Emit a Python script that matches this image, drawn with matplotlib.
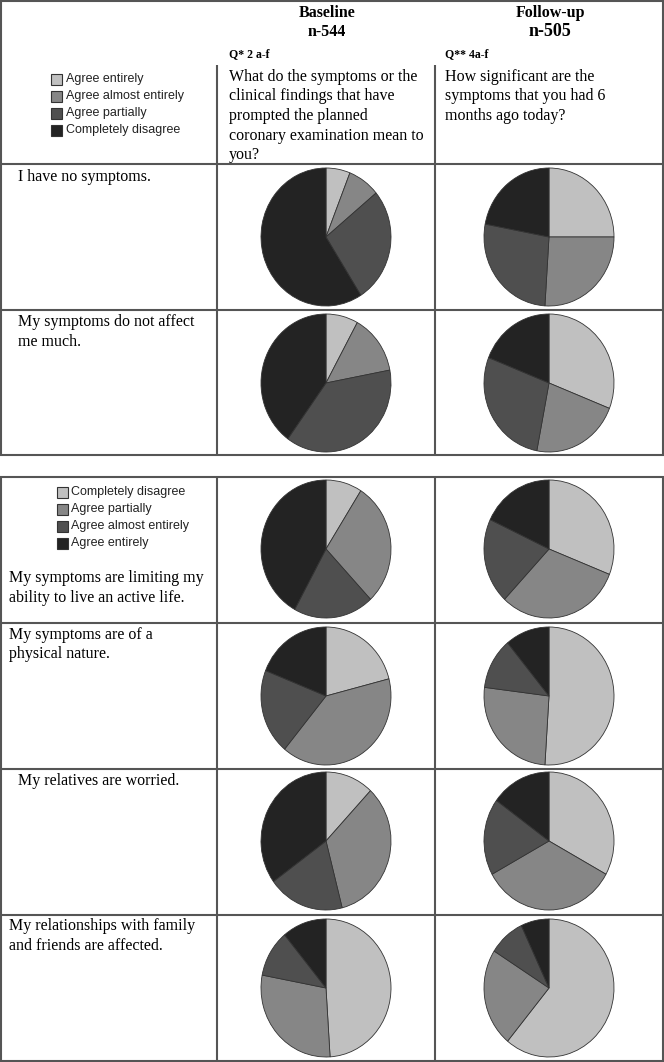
import matplotlib
matplotlib.use("Agg")
import matplotlib.pyplot as plt
from matplotlib.patches import Rectangle

# --- data -------------------------------------------------------------
statements = [
    "I have no symptoms.",
    "My symptoms do not affect\nme much.",
    "My symptoms are limiting my\nability to live an active life.",
    "My symptoms are of a\nphysical nature.",
    "My relatives are worried.",
    "My relationships with family\nand friends are affected.",
]
# shares per wedge, clockwise from 12 o'clock: light, mid, dark, black
baseline = [
    [6, 8, 27, 59],
    [8, 14, 38, 40],
    [9, 29, 20, 42],
    [21, 40, 20, 19],
    [12, 34, 19, 35],
    [49, 29, 11, 11],
]
followup = [
    [25, 26, 27, 22],
    [31, 22, 28, 19],
    [31, 31, 20, 18],
    [51, 26, 12, 11],
    [33, 34, 18, 15],
    [61, 23, 9, 7],
]
legend_top = ["Agree entirely", "Agree almost entirely", "Agree partially", "Completely disagree"]
legend_bottom = ["Completely disagree", "Agree partially", "Agree almost entirely", "Agree entirely"]
col_titles = ["Baseline", "Follow-up"]
col_n = ["n-544", "n-505"]
col_q = ["Q* 2 a-f", "Q** 4a-f"]
col_question = [
    ["What do the symptoms or the", "clinical findings that have",
     "prompted the planned", "coronary examination mean to", "you?"],
    ["How significant are the", "symptoms that you had 6", "months ago today?"],
]

# --- layout (pixels) --------------------------------------------------
W, H = 664, 1062
colors = ["#c0c0c0", "#868686", "#4f4f4f", "#232323"]
line_c = "#555555"
serif = "Liberation Serif"
sans = "Liberation Sans"

fig = plt.figure(figsize=(W / 100, H / 100), dpi=100)
tab = fig.add_axes([0, 0, 1, 1])
tab.set_xlim(0, W)
tab.set_ylim(H, 0)
tab.axis("off")


def hline(y):
    tab.plot([0, W], [y, y], color=line_c, lw=1.5, solid_capstyle="butt")


def vline(x, y0, y1):
    tab.plot([x, x], [y0, y1], color=line_c, lw=1.5, solid_capstyle="butt")


# table grid
for y in [1, 164, 310, 455, 477, 623, 769, 915, 1061]:
    hline(y)
vline(1, 1, 455)
vline(663, 1, 455)
vline(217, 65, 455)
vline(435, 65, 455)
for x in [1, 217, 435, 663]:
    vline(x, 477, 1061)

# header
col_x = [327, 550]
txt_x = [229, 445]
for j in range(2):
    tab.text(col_x[j], 13, col_titles[j], ha="center", va="center",
             family=serif, fontsize=11.5, fontweight="bold")
    tab.text(col_x[j], 32, col_n[j], ha="center", va="center",
             family=serif, fontsize=11.5 if j == 0 else 13, fontweight="bold")
    tab.text(txt_x[j], 54, col_q[j], ha="left", va="center",
             family=serif, fontsize=8.5, fontweight="bold")
    for k, line in enumerate(col_question[j]):
        tab.text(txt_x[j], 77 + k * 19.5, line, ha="left", va="center",
                 family=serif, fontsize=11.5)

# legends
for labels, sx, tx, y0 in [(legend_top, 51, 66, 79), (legend_bottom, 57, 71, 492)]:
    for k, lab in enumerate(labels):
        y = y0 + k * 17
        tab.add_patch(Rectangle((sx, y - 5.5), 11, 11, facecolor=colors[k],
                                edgecolor="#333333", lw=0.8))
        tab.text(tx, y, lab, ha="left", va="center", family=sans,
                 fontsize=9, color="#222222")

# row labels
label_pos = [(18, 177), (18, 322), (9, 578), (9, 635), (18, 781), (9, 926)]
for (lx, ly), s in zip(label_pos, statements):
    for k, line in enumerate(s.split("\n")):
        tab.text(lx, ly + k * 19.5, line, ha="left", va="center",
                 family=serif, fontsize=11.5)

# pies
row_cy = [237, 383, 549, 696, 841, 988]
pie_cx = [326, 549]
rx, ry = 65, 69
for i, cy in enumerate(row_cy):
    for j, vals in enumerate([baseline[i], followup[i]]):
        ax = fig.add_axes([(pie_cx[j] - rx) / W, 1 - (cy + ry) / H,
                           2 * rx / W, 2 * ry / H])
        ax.pie(vals, colors=colors, startangle=90, counterclock=False,
               wedgeprops=dict(edgecolor="#333333", linewidth=0.6))
        ax.set_aspect("auto")
        ax.set_xlim(-1.0, 1.0)
        ax.set_ylim(-1.0, 1.0)
        ax.axis("off")

fig.savefig("out.png", dpi=100)
